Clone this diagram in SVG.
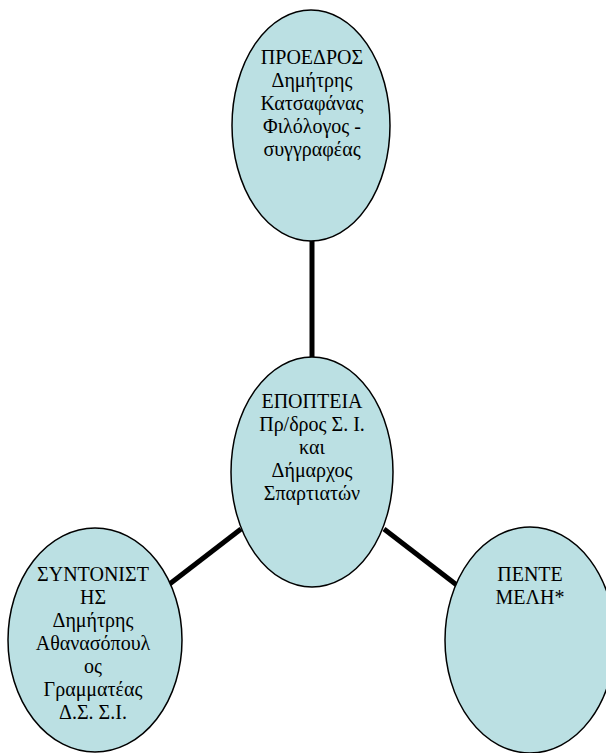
<svg xmlns="http://www.w3.org/2000/svg" width="606" height="753" viewBox="0 0 606 753">
<style>
.node{fill:#BBE0E3;stroke:#000;stroke-width:1.5}
.lbl{font-family:"Liberation Serif","DejaVu Serif",serif;font-size:20px;fill:#000;text-anchor:middle}
.conn{stroke:#000;stroke-width:5;fill:none}
</style>
<rect width="606" height="753" fill="#fff"/>
<g id="connectors">
<line class="conn" x1="312" y1="240" x2="312" y2="358"/>
<line class="conn" x1="167" y1="586" x2="241" y2="529"/>
<line class="conn" x1="384" y1="529" x2="458" y2="586"/>
</g>
<g id="president">
<ellipse class="node" cx="311" cy="125.5" rx="79" ry="115.5"/>
<text class="lbl" x="312" y="64">ΠΡΟΕΔΡΟΣ</text>
<text class="lbl" x="312" y="87">Δημήτρης</text>
<text class="lbl" x="312" y="110">Κατσαφάνας</text>
<text class="lbl" x="312" y="133">Φιλόλογος -</text>
<text class="lbl" x="312" y="156">συγγραφέας</text>
</g>
<g id="supervision">
<ellipse class="node" cx="312" cy="472" rx="81" ry="115"/>
<text class="lbl" x="312" y="408">ΕΠΟΠΤΕΙΑ</text>
<text class="lbl" x="312" y="431">Πρ/δρος Σ. Ι.</text>
<text class="lbl" x="312" y="454">και</text>
<text class="lbl" x="312" y="477">Δήμαρχος</text>
<text class="lbl" x="312" y="500">Σπαρτιατών</text>
</g>
<g id="coordinator">
<ellipse class="node" cx="95" cy="640" rx="87" ry="112"/>
<text class="lbl" x="93" y="581">ΣΥΝΤΟΝΙΣΤ</text>
<text class="lbl" x="93" y="604">ΗΣ</text>
<text class="lbl" x="93" y="627">Δημήτρης</text>
<text class="lbl" x="93" y="650">Αθανασόπουλ</text>
<text class="lbl" x="93" y="673">ος</text>
<text class="lbl" x="93" y="696">Γραμματέας</text>
<text class="lbl" x="93" y="719">Δ.Σ. Σ.Ι.</text>
</g>
<g id="members">
<ellipse class="node" cx="530" cy="640" rx="85" ry="113"/>
<text class="lbl" x="530" y="581">ΠΕΝΤΕ</text>
<text class="lbl" x="530" y="604">ΜΕΛΗ*</text>
</g>
</svg>
